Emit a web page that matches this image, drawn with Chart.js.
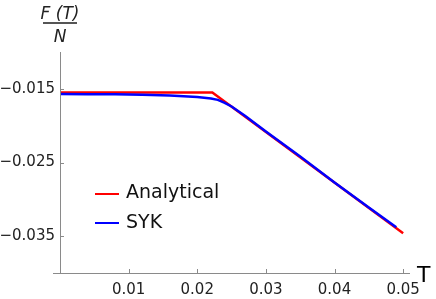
<!DOCTYPE html>
<html>
<head>
<meta charset="utf-8">
<script src="https://cdn.jsdelivr.net/npm/chart.js@4.4.1/dist/chart.umd.min.js"></script>
<style>
  html, body { margin: 0; padding: 0; background: #fff; }
  #wrap { width: 436px; height: 299px; }
</style>
</head>
<body>
<div id="wrap"><canvas id="fe"></canvas></div>
<script>
// analytical free energy (piecewise)
var analyticalT = [0, 0.0222, 0.05];
var analyticalF = [-0.0155, -0.0155, -0.0346];

// SYK numerics
var sykT = [0, 0.004, 0.008, 0.012, 0.016, 0.020, 0.022, 0.023, 0.024, 0.025, 0.027, 0.030, 0.035, 0.040, 0.045, 0.049];
var sykF = [-0.0157, -0.01575, -0.01575, -0.0158, -0.0159, -0.0161, -0.0163, -0.0165, -0.0169, -0.0174, -0.0187, -0.0208, -0.0242, -0.0277, -0.0311, -0.0338];

var xTicks = [0.01, 0.02, 0.03, 0.04, 0.05];
var yTicks = [-0.035, -0.025, -0.015];

function pts(xs, ys) {
    var out = [];
    for (var i = 0; i < xs.length; i++) out.push({x: xs[i], y: ys[i]});
    return out;
}

var FONT = "'DejaVu Sans', sans-serif";
var AXIS = "#8a8a8a";

var decor = {
    id: "decor",
    afterDraw: function (chart) {
        var ctx = chart.ctx;
        var xs = chart.scales.x, ys = chart.scales.y;
        var x0 = xs.getPixelForValue(0);
        var yb = ys.getPixelForValue(-0.040);
        var yt = ys.getPixelForValue(-0.010);
        var xr = xs.getPixelForValue(0.051);
        ctx.save();
        ctx.strokeStyle = AXIS;
        ctx.lineWidth = 1;
        ctx.beginPath();
        ctx.moveTo(x0 + 0.5, yt);
        ctx.lineTo(x0 + 0.5, yb + 1);
        ctx.moveTo(x0 - 7, Math.round(yb) + 0.5);
        ctx.lineTo(xr, Math.round(yb) + 0.5);
        // inward ticks
        yTicks.forEach(function (v) {
            var p = Math.round(ys.getPixelForValue(v)) + 0.5;
            ctx.moveTo(x0, p);
            ctx.lineTo(x0 + 4, p);
        });
        xTicks.forEach(function (v) {
            var p = Math.round(xs.getPixelForValue(v)) + 0.5;
            ctx.moveTo(p, yb);
            ctx.lineTo(p, yb - 4);
        });
        ctx.stroke();

        // axis labels
        ctx.fillStyle = "#000";
        ctx.textBaseline = "alphabetic";
        ctx.textAlign = "left";
        ctx.font = "22px " + FONT;
        ctx.fillText("T", 417, 282);

        ctx.fillStyle = "#222";
        ctx.textAlign = "center";
        ctx.font = "italic 17px " + FONT;
        ctx.fillText("F (T)", 60, 19);
        ctx.fillText("N", 60, 42);
        ctx.fillStyle = "#555";
        ctx.fillRect(43, 22, 34, 2);

        // legend
        ctx.textAlign = "left";
        ctx.font = "19px " + FONT;
        var rows = [194, 223];
        chart.data.datasets.slice().reverse().forEach(function (ds, i) {
            ctx.strokeStyle = ds.borderColor;
            ctx.lineWidth = 2;
            ctx.beginPath();
            ctx.moveTo(95, rows[i]);
            ctx.lineTo(119, rows[i]);
            ctx.stroke();
            ctx.fillStyle = "#111";
            ctx.fillText(ds.label, 126, rows[i] + 4 + (i === 0 ? 0 : 1));
        });
        ctx.restore();
    }
};

new Chart(document.getElementById("fe"), {
    type: "line",
    data: {
        datasets: [
            {
                label: "SYK",
                data: pts(sykT, sykF),
                borderColor: "#0000ff",
                borderWidth: 2.5,
                pointRadius: 0,
                tension: 0,
                order: 0
            },
            {
                label: "Analytical",
                data: pts(analyticalT, analyticalF),
                borderColor: "#ff0000",
                borderWidth: 2.5,
                pointRadius: 0,
                tension: 0,
                order: 1
            }
        ]
    },
    options: {
        responsive: true,
        maintainAspectRatio: false,
        animation: false,
        layout: { padding: { top: 52, right: 26, left: 0, bottom: 0 } },
        plugins: { legend: { display: false }, tooltip: { enabled: false } },
        scales: {
            x: {
                type: "linear",
                min: 0,
                max: 0.051,
                grid: { display: false, drawTicks: false },
                border: { display: false },
                afterBuildTicks: function (s) { s.ticks = xTicks.map(function (v) { return {value: v}; }); },
                afterFit: function (s) { s.height = 26; },
                ticks: {
                    padding: 8,
                    maxRotation: 0,
                    autoSkip: false,
                    color: "#222",
                    font: { family: FONT, size: 15 },
                    callback: function (v) { return v.toFixed(2); }
                }
            },
            y: {
                type: "linear",
                min: -0.040,
                max: -0.010,
                grid: { display: false, drawTicks: false },
                border: { display: false },
                afterBuildTicks: function (s) { s.ticks = yTicks.map(function (v) { return {value: v}; }); },
                afterFit: function (s) { s.width = 60; },
                ticks: {
                    padding: 5,
                    autoSkip: false,
                    color: "#222",
                    font: { family: FONT, size: 15 },
                    callback: function (v) { return "\u2212" + Math.abs(v).toFixed(3); }
                }
            }
        }
    },
    plugins: [decor]
});
</script>
</body>
</html>
